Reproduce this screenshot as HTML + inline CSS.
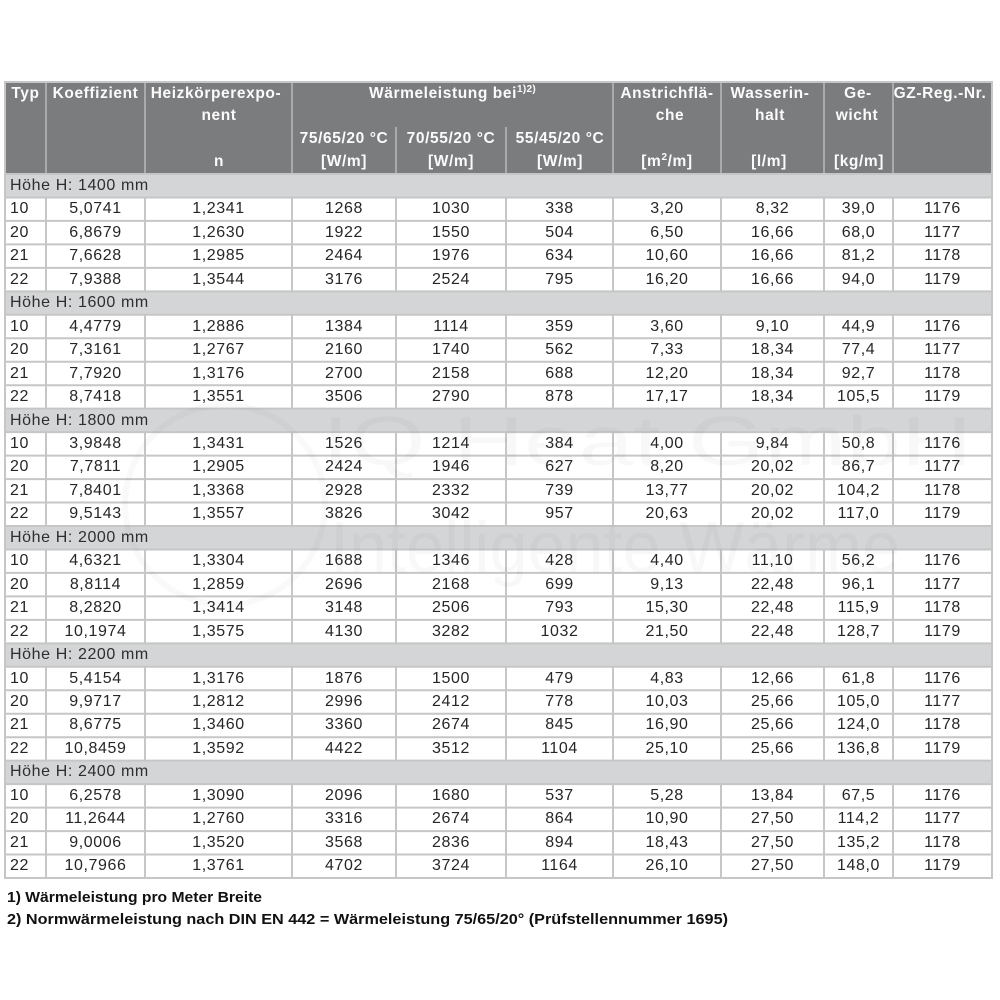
<!DOCTYPE html>
<html><head><meta charset="utf-8">
<style>
html,body{margin:0;padding:0;background:#fff;}
body{width:1000px;height:1000px;position:relative;overflow:hidden;}
svg{position:absolute;left:0;top:0;}
.hd{font-family:"Liberation Sans",sans-serif;font-weight:bold;font-size:15.5px;fill:#fbfbfb;letter-spacing:0.6px;}
.fn{font-family:"Liberation Sans",sans-serif;font-weight:bold;font-size:14.5px;fill:#111;}
.wm{font-family:"Liberation Sans",sans-serif;fill:#000;fill-opacity:0.028;}
#tb{position:absolute;left:5px;top:174px;width:987px;}
.r{height:23.4667px;display:flex;font-family:"Liberation Sans",sans-serif;font-size:16px;line-height:23px;letter-spacing:0.6px;color:#262626;white-space:nowrap;}
.r span{flex:none;text-align:center;}
.r span:nth-child(1){width:36px;text-align:left;padding-left:5px;}
.r span:nth-child(2){width:99px;}
.r span:nth-child(3){width:147px;}
.r span:nth-child(4){width:104px;}
.r span:nth-child(5){width:110px;}
.r span:nth-child(6){width:107px;}
.r span:nth-child(7){width:108px;}
.r span:nth-child(8){width:103px;}
.r span:nth-child(9){width:69px;}
.r span:nth-child(10){width:99px;}
.g{padding-left:5px;color:#2e2e2e;}
</style></head>
<body>
<svg width="1000" height="1000" viewBox="0 0 1000 1000">
<rect x="0" y="0" width="1000" height="1000" fill="#fff"/>
<!-- header -->
<rect x="5" y="82" width="987" height="92" fill="#7b7c7e"/>
<g stroke="#a9aaac" stroke-width="2">
<line x1="46" y1="82" x2="46" y2="174"/>
<line x1="145" y1="82" x2="145" y2="174"/>
<line x1="292" y1="82" x2="292" y2="174"/>
<line x1="613" y1="82" x2="613" y2="174"/>
<line x1="721" y1="82" x2="721" y2="174"/>
<line x1="824" y1="82" x2="824" y2="174"/>
<line x1="893" y1="82" x2="893" y2="174"/>
<line x1="396" y1="127" x2="396" y2="174"/>
<line x1="506" y1="127" x2="506" y2="174"/>
</g>
<!-- body vertical lines -->
<g stroke="#c6c6c6" stroke-width="2">
<line x1="46" y1="174" x2="46" y2="878"/>
<line x1="145" y1="174" x2="145" y2="878"/>
<line x1="292" y1="174" x2="292" y2="878"/>
<line x1="396" y1="174" x2="396" y2="878"/>
<line x1="506" y1="174" x2="506" y2="878"/>
<line x1="613" y1="174" x2="613" y2="878"/>
<line x1="721" y1="174" x2="721" y2="878"/>
<line x1="824" y1="174" x2="824" y2="878"/>
<line x1="893" y1="174" x2="893" y2="878"/>
</g>
<!-- group rows -->
<g fill="#d4d5d7">
<rect x="5" y="174" width="987" height="23.47"/>
<rect x="5" y="291.33" width="987" height="23.47"/>
<rect x="5" y="408.67" width="987" height="23.47"/>
<rect x="5" y="526" width="987" height="23.47"/>
<rect x="5" y="643.33" width="987" height="23.47"/>
<rect x="5" y="760.67" width="987" height="23.47"/>
</g>
<!-- horizontal lines -->
<g stroke="#c6c6c6" stroke-width="2">
<line x1="5" x2="992" y1="174" y2="174"/>
<line x1="5" x2="992" y1="197.47" y2="197.47"/>
<line x1="5" x2="992" y1="220.93" y2="220.93"/>
<line x1="5" x2="992" y1="244.4" y2="244.4"/>
<line x1="5" x2="992" y1="267.87" y2="267.87"/>
<line x1="5" x2="992" y1="291.33" y2="291.33"/>
<line x1="5" x2="992" y1="314.8" y2="314.8"/>
<line x1="5" x2="992" y1="338.27" y2="338.27"/>
<line x1="5" x2="992" y1="361.73" y2="361.73"/>
<line x1="5" x2="992" y1="385.2" y2="385.2"/>
<line x1="5" x2="992" y1="408.67" y2="408.67"/>
<line x1="5" x2="992" y1="432.13" y2="432.13"/>
<line x1="5" x2="992" y1="455.6" y2="455.6"/>
<line x1="5" x2="992" y1="479.07" y2="479.07"/>
<line x1="5" x2="992" y1="502.53" y2="502.53"/>
<line x1="5" x2="992" y1="526" y2="526"/>
<line x1="5" x2="992" y1="549.47" y2="549.47"/>
<line x1="5" x2="992" y1="572.93" y2="572.93"/>
<line x1="5" x2="992" y1="596.4" y2="596.4"/>
<line x1="5" x2="992" y1="619.87" y2="619.87"/>
<line x1="5" x2="992" y1="643.33" y2="643.33"/>
<line x1="5" x2="992" y1="666.8" y2="666.8"/>
<line x1="5" x2="992" y1="690.27" y2="690.27"/>
<line x1="5" x2="992" y1="713.73" y2="713.73"/>
<line x1="5" x2="992" y1="737.2" y2="737.2"/>
<line x1="5" x2="992" y1="760.67" y2="760.67"/>
<line x1="5" x2="992" y1="784.13" y2="784.13"/>
<line x1="5" x2="992" y1="807.6" y2="807.6"/>
<line x1="5" x2="992" y1="831.07" y2="831.07"/>
<line x1="5" x2="992" y1="854.53" y2="854.53"/>
</g>
<rect x="5" y="82" width="987" height="796" fill="none" stroke="#c6c6c6" stroke-width="2"/>
<!-- watermark -->
<circle cx="225" cy="505" r="100" fill="none" stroke="#000" stroke-opacity="0.025" stroke-width="6"/>
<text class="wm" x="322" y="465" font-size="70" textLength="650" lengthAdjust="spacingAndGlyphs">IQ Heat GmbH</text>
<text class="wm" x="330" y="572" font-size="72" textLength="570" lengthAdjust="spacingAndGlyphs">Intelligente Wärme</text>
<!-- header text -->
<g class="hd" text-anchor="middle">
<text x="25.5" y="98">Typ</text>
<text x="95.5" y="98">Koeffizient</text>
<text x="216" y="98">Heizkörperexpo-</text>
<text x="219" y="120">nent</text>
<text x="219" y="166">n</text>
<text x="452.5" y="98">Wärmeleistung bei<tspan font-size="10" dy="-6" letter-spacing="0.3">1)2)</tspan></text>
<text x="344" y="143">75/65/20 °C</text>
<text x="344" y="166">[W/m]</text>
<text x="451" y="143">70/55/20 °C</text>
<text x="451" y="166">[W/m]</text>
<text x="560" y="143">55/45/20 °C</text>
<text x="560" y="166">[W/m]</text>
<text x="667" y="98">Anstrichflä-</text>
<text x="670" y="120">che</text>
<text x="667" y="166">[m<tspan font-size="10" dy="-6">2</tspan><tspan dy="6">/m]</tspan></text>
<text x="770" y="98">Wasserin-</text>
<text x="770" y="120">halt</text>
<text x="769" y="166">[l/m]</text>
<text x="858" y="98">Ge-</text>
<text x="857" y="120">wicht</text>
<text x="859" y="166">[kg/m]</text>
<text x="940" y="98">GZ-Reg.-Nr.</text>
</g>
<!-- footnotes -->
<text class="fn" x="7" y="902" textLength="255" lengthAdjust="spacingAndGlyphs">1) Wärmeleistung pro Meter Breite</text>
<text class="fn" x="7" y="924" textLength="721" lengthAdjust="spacingAndGlyphs">2) Normwärmeleistung nach DIN EN 442 = Wärmeleistung 75/65/20° (Prüfstellennummer 1695)</text>
</svg>

<div id="tb">
<div class="r"><div class="g">Höhe H: 1400 mm</div></div>
<div class="r"><span>10</span><span>5,0741</span><span>1,2341</span><span>1268</span><span>1030</span><span>338</span><span>3,20</span><span>8,32</span><span>39,0</span><span>1176</span></div>
<div class="r"><span>20</span><span>6,8679</span><span>1,2630</span><span>1922</span><span>1550</span><span>504</span><span>6,50</span><span>16,66</span><span>68,0</span><span>1177</span></div>
<div class="r"><span>21</span><span>7,6628</span><span>1,2985</span><span>2464</span><span>1976</span><span>634</span><span>10,60</span><span>16,66</span><span>81,2</span><span>1178</span></div>
<div class="r"><span>22</span><span>7,9388</span><span>1,3544</span><span>3176</span><span>2524</span><span>795</span><span>16,20</span><span>16,66</span><span>94,0</span><span>1179</span></div>
<div class="r"><div class="g">Höhe H: 1600 mm</div></div>
<div class="r"><span>10</span><span>4,4779</span><span>1,2886</span><span>1384</span><span>1114</span><span>359</span><span>3,60</span><span>9,10</span><span>44,9</span><span>1176</span></div>
<div class="r"><span>20</span><span>7,3161</span><span>1,2767</span><span>2160</span><span>1740</span><span>562</span><span>7,33</span><span>18,34</span><span>77,4</span><span>1177</span></div>
<div class="r"><span>21</span><span>7,7920</span><span>1,3176</span><span>2700</span><span>2158</span><span>688</span><span>12,20</span><span>18,34</span><span>92,7</span><span>1178</span></div>
<div class="r"><span>22</span><span>8,7418</span><span>1,3551</span><span>3506</span><span>2790</span><span>878</span><span>17,17</span><span>18,34</span><span>105,5</span><span>1179</span></div>
<div class="r"><div class="g">Höhe H: 1800 mm</div></div>
<div class="r"><span>10</span><span>3,9848</span><span>1,3431</span><span>1526</span><span>1214</span><span>384</span><span>4,00</span><span>9,84</span><span>50,8</span><span>1176</span></div>
<div class="r"><span>20</span><span>7,7811</span><span>1,2905</span><span>2424</span><span>1946</span><span>627</span><span>8,20</span><span>20,02</span><span>86,7</span><span>1177</span></div>
<div class="r"><span>21</span><span>7,8401</span><span>1,3368</span><span>2928</span><span>2332</span><span>739</span><span>13,77</span><span>20,02</span><span>104,2</span><span>1178</span></div>
<div class="r"><span>22</span><span>9,5143</span><span>1,3557</span><span>3826</span><span>3042</span><span>957</span><span>20,63</span><span>20,02</span><span>117,0</span><span>1179</span></div>
<div class="r"><div class="g">Höhe H: 2000 mm</div></div>
<div class="r"><span>10</span><span>4,6321</span><span>1,3304</span><span>1688</span><span>1346</span><span>428</span><span>4,40</span><span>11,10</span><span>56,2</span><span>1176</span></div>
<div class="r"><span>20</span><span>8,8114</span><span>1,2859</span><span>2696</span><span>2168</span><span>699</span><span>9,13</span><span>22,48</span><span>96,1</span><span>1177</span></div>
<div class="r"><span>21</span><span>8,2820</span><span>1,3414</span><span>3148</span><span>2506</span><span>793</span><span>15,30</span><span>22,48</span><span>115,9</span><span>1178</span></div>
<div class="r"><span>22</span><span>10,1974</span><span>1,3575</span><span>4130</span><span>3282</span><span>1032</span><span>21,50</span><span>22,48</span><span>128,7</span><span>1179</span></div>
<div class="r"><div class="g">Höhe H: 2200 mm</div></div>
<div class="r"><span>10</span><span>5,4154</span><span>1,3176</span><span>1876</span><span>1500</span><span>479</span><span>4,83</span><span>12,66</span><span>61,8</span><span>1176</span></div>
<div class="r"><span>20</span><span>9,9717</span><span>1,2812</span><span>2996</span><span>2412</span><span>778</span><span>10,03</span><span>25,66</span><span>105,0</span><span>1177</span></div>
<div class="r"><span>21</span><span>8,6775</span><span>1,3460</span><span>3360</span><span>2674</span><span>845</span><span>16,90</span><span>25,66</span><span>124,0</span><span>1178</span></div>
<div class="r"><span>22</span><span>10,8459</span><span>1,3592</span><span>4422</span><span>3512</span><span>1104</span><span>25,10</span><span>25,66</span><span>136,8</span><span>1179</span></div>
<div class="r"><div class="g">Höhe H: 2400 mm</div></div>
<div class="r"><span>10</span><span>6,2578</span><span>1,3090</span><span>2096</span><span>1680</span><span>537</span><span>5,28</span><span>13,84</span><span>67,5</span><span>1176</span></div>
<div class="r"><span>20</span><span>11,2644</span><span>1,2760</span><span>3316</span><span>2674</span><span>864</span><span>10,90</span><span>27,50</span><span>114,2</span><span>1177</span></div>
<div class="r"><span>21</span><span>9,0006</span><span>1,3520</span><span>3568</span><span>2836</span><span>894</span><span>18,43</span><span>27,50</span><span>135,2</span><span>1178</span></div>
<div class="r"><span>22</span><span>10,7966</span><span>1,3761</span><span>4702</span><span>3724</span><span>1164</span><span>26,10</span><span>27,50</span><span>148,0</span><span>1179</span></div>
</div>
</body></html>
